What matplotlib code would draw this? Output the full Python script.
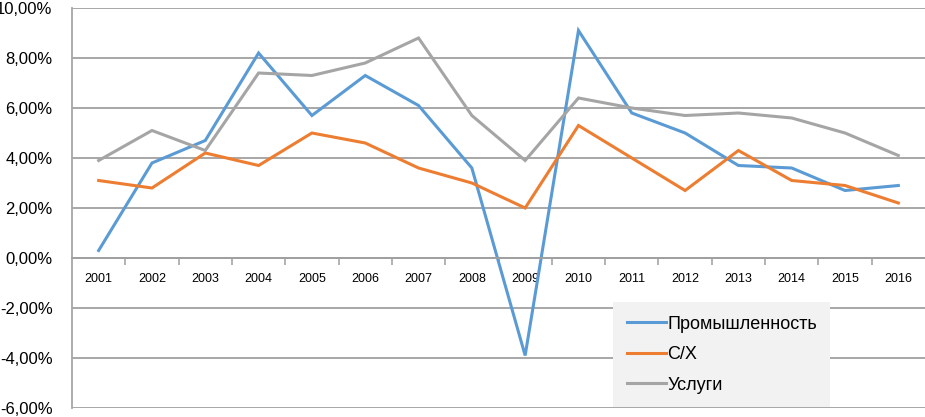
import numpy as np
import matplotlib as mpl
import matplotlib.pyplot as plt
from matplotlib.ticker import FuncFormatter, FixedLocator

mpl.rcParams["font.family"] = ["Liberation Sans", "DejaVu Sans"]

# ----------------------------
# Data (growth rates, %)
# ----------------------------
years = ["2001", "2002", "2003", "2004", "2005", "2006", "2007", "2008",
         "2009", "2010", "2011", "2012", "2013", "2014", "2015", "2016"]
industry = [0.3, 3.8, 4.7, 8.2, 5.7, 7.3, 6.1, 3.6, -3.9, 9.1, 5.8, 5.0, 3.7, 3.6, 2.7, 2.9]
agri = [3.1, 2.8, 4.2, 3.7, 5.0, 4.6, 3.6, 3.0, 2.0, 5.3, 4.0, 2.7, 4.3, 3.1, 2.9, 2.2]
services = [3.9, 5.1, 4.3, 7.4, 7.3, 7.8, 8.8, 5.7, 3.9, 6.4, 6.0, 5.7, 5.8, 5.6, 5.0, 4.1]
names = ["Промышленность", "С/Х", "Услуги"]
colors = ["#5b9bd5", "#ed7d31", "#a5a5a5"]

# ----------------------------
# Figure
# ----------------------------
fig = plt.figure(figsize=(9.25, 4.17), dpi=100)
ax = fig.add_axes([72 / 925, 9 / 417, 1 - 72 / 925, 400 / 417])

x = np.arange(len(years))
for vals, name, c in zip([industry, agri, services], names, colors):
    ax.plot(x, vals, color=c, lw=2.2, label=name, solid_joinstyle="miter")

ax.set_xlim(-0.5, len(years) - 0.5)
ax.set_ylim(-6, 10)
ax.set_yticks(np.arange(-6, 10.1, 2))
ax.yaxis.set_major_formatter(FuncFormatter(lambda v, p: f"{v:.2f}%".replace(".", ",")))
ax.grid(axis="y", color="#a0a0a0", lw=1.3)
ax.set_axisbelow(True)

for s in ["top", "right"]:
    ax.spines[s].set_visible(False)
ax.spines["left"].set_color("#a6a6a6")
ax.spines["left"].set_linewidth(1.3)
ax.spines["bottom"].set_position(("data", 0))
ax.spines["bottom"].set_color("#a0a0a0")
ax.spines["bottom"].set_linewidth(1.3)

# category labels at points, tick marks between categories
ax.set_xticks(x)
ax.set_xticklabels(years, fontsize=9)
ax.tick_params(axis="x", which="major", length=0, pad=11)
ax.xaxis.set_minor_locator(FixedLocator(np.arange(0.5, len(years) - 0.5, 1)))
ax.tick_params(axis="x", which="minor", length=5, color="#a6a6a6", width=1.2)
ax.tick_params(axis="y", length=0, labelsize=12, pad=14)

leg = ax.legend(loc="upper left", bbox_to_anchor=(613 / 925, 1 - 302 / 417),
                bbox_transform=fig.transFigure, fontsize=13, frameon=True,
                fancybox=False, handlelength=2.2, handletextpad=0.05,
                labelspacing=0.75, borderpad=0.75, borderaxespad=0)
leg.get_frame().set_facecolor("#f2f2f2")
leg.get_frame().set_edgecolor("none")
leg.get_frame().set_alpha(1)

fig.savefig("out.png", dpi=100)
